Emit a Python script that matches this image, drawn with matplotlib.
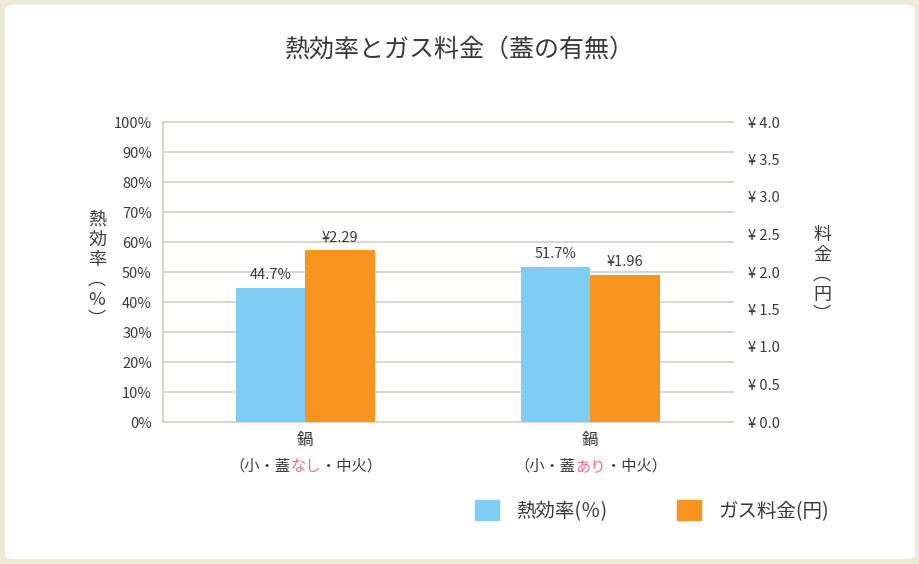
import matplotlib.pyplot as plt
from matplotlib.patches import FancyBboxPatch, Patch
from matplotlib.offsetbox import TextArea, HPacker, AnnotationBbox

plt.rcParams['font.family'] = ['Noto Sans CJK JP', 'DejaVu Sans']

# data
cats = ['鍋', '鍋']
cat_sub = [('（小・蓋', 'なし', '・中火）'), ('（小・蓋', 'あり', '・中火）')]
eff = [44.7, 51.7]        # 熱効率 %
cost = [2.29, 1.96]       # ガス料金 円

blue = '#7ecef4'
orange = '#f7931e'
grid_c = '#d8d2c8'
txt_c = '#3a3a3a'
pink = '#f26d85'

fig = plt.figure(figsize=(9.2, 5.64), dpi=100)
fig.patch.set_facecolor('#efe9da')
# rounded white card behind everything
card = FancyBboxPatch((0.004, 0.006), 0.992, 0.988, boxstyle='round,pad=0,rounding_size=0.012',
                      transform=fig.transFigure, facecolor='white', edgecolor='#efe9da', lw=2,
                      zorder=-10)
fig.patches.append(card)

ax = fig.add_axes([163/920, 142/564, 570/920, 300/564])
ax.set_facecolor('none')
ax2 = ax.twinx()
ax2.set_facecolor('none')

x = [0, 1]
w = 0.245
b1 = ax.bar([i - w/2 for i in x], eff, w, color=blue, zorder=3)
b2 = ax2.bar([i + w/2 for i in x], cost, w, color=orange, zorder=3)

ax.set_xlim(-0.5, 1.5)
ax.set_ylim(0, 100)
ax2.set_ylim(0, 4.0)
ax.set_yticks(range(0, 101, 10))
ax.set_yticklabels([f'{v}%' for v in range(0, 101, 10)], fontsize=10.5, color=txt_c)
ax2.set_yticks([i * 0.5 for i in range(9)])
ax2.set_yticklabels([f'¥ {i*0.5:.1f}' for i in range(9)], fontsize=10.5, color=txt_c)
ax.grid(axis='y', color=grid_c, lw=1.3, zorder=0)
for gl in ax.get_ygridlines():
    gl.set_clip_on(False)
ax.tick_params(axis='y', length=0, pad=8)
ax2.tick_params(axis='y', length=0, pad=11)
ax.set_xticks(x)
ax.set_xticklabels(cats, fontsize=12, color=txt_c)
ax.tick_params(axis='x', length=0, pad=7)
for a in (ax, ax2):
    for s in ['top', 'right', 'bottom']:
        a.spines[s].set_visible(False)
ax2.spines['left'].set_visible(False)
ax.spines['left'].set_color(grid_c)
ax.spines['left'].set_linewidth(1.3)

ax.bar_label(b1, labels=[f'{v}%' for v in eff], padding=4, fontsize=10.5, color=txt_c)
ax2.bar_label(b2, labels=[f'¥{v:.2f}' for v in cost], padding=4, fontsize=10.5, color=txt_c)

# second line of category labels, with coloured part
for i, parts in enumerate(cat_sub):
    boxes = [TextArea(parts[0], textprops=dict(fontsize=11, color=txt_c)),
             TextArea(parts[1], textprops=dict(fontsize=11, color=pink)),
             TextArea(parts[2], textprops=dict(fontsize=11, color=txt_c))]
    pk = HPacker(children=boxes, pad=0, sep=0)
    ab = AnnotationBbox(pk, (x[i], -0.12), xycoords=('data', 'axes fraction'),
                        box_alignment=(0.5, 1), frameon=False)
    ax.add_artist(ab)

fig.text(0.5, 1 - 50/564, '熱効率とガス料金（蓋の有無）', ha='center', va='center', fontsize=18, color=txt_c)
fig.text(97/920, 1 - 270/564, '熱\n効\n率\n︵\n%\n︶', ha='center', va='center',
         fontsize=13, color=txt_c, linespacing=1.15)
fig.text(822/920, 1 - 275/564, '料\n金\n︵\n円\n︶', ha='center', va='center',
         fontsize=13, color=txt_c, linespacing=1.15)

handles = [Patch(color=blue, label='熱効率(％)'), Patch(color=orange, label='ガス料金(円)')]
fig.legend(handles=handles, loc='center', bbox_to_anchor=(652/920, 1 - 511/564), ncol=2,
           frameon=False, fontsize=14, handlelength=1.2, handleheight=1.2, columnspacing=3.6,
           handletextpad=0.9, labelcolor=txt_c)

fig.savefig('out.png', dpi=100, facecolor=fig.get_facecolor())
